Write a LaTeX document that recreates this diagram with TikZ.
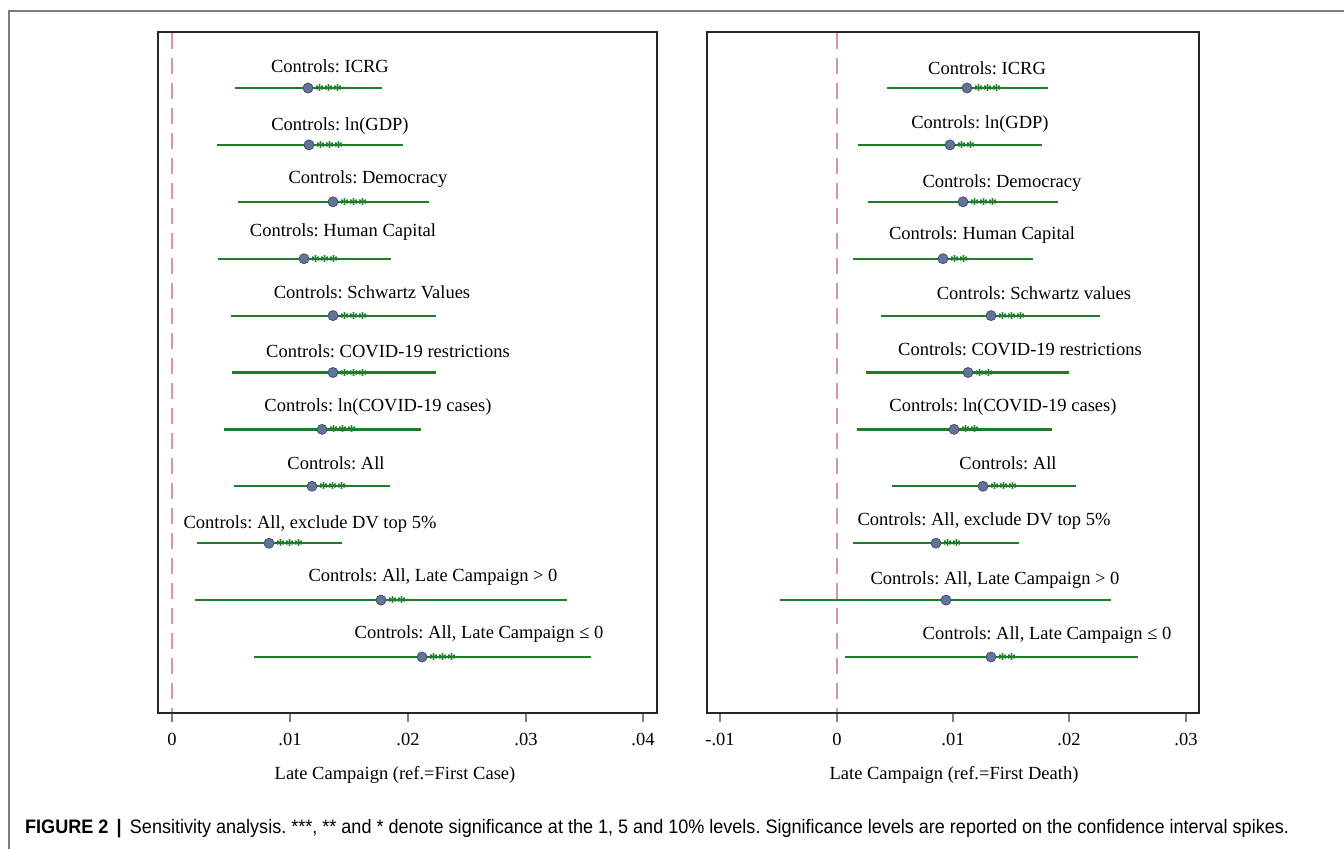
\documentclass[tikz,border=0pt]{standalone}
\usepackage{fontspec}
\setmainfont{Liberation Serif}
\newfontfamily\capfont[FakeStretch=0.925]{Liberation Sans}
\usetikzlibrary{positioning}
\definecolor{cigreen}{RGB}{30,125,40}
\definecolor{dotblue}{RGB}{100,115,150}
\definecolor{dotedge}{RGB}{65,80,115}
\definecolor{refpink}{RGB}{215,150,160}
\definecolor{framegray}{RGB}{125,125,125}
\frenchspacing

\begin{document}
\begin{tikzpicture}[x=1pt, y=-1pt,
	lab/.style={font=\fontsize{18.5}{22}\selectfont, inner sep=0pt, anchor=base},
	ci/.style={cigreen, line width=2.2pt},
	est/.style={circle, fill=dotblue, draw=dotedge, line width=0.8pt, minimum size=10pt, inner sep=0pt},
	sig/.style={text=cigreen, font=\bfseries\fontsize{18}{20}\selectfont, inner sep=0pt, anchor=base west},
	panel/.style={draw=black!85, line width=2pt},
	ref/.style={refpink, line width=1.6pt, dash pattern=on 16pt off 9pt},
	tick/.style={black!50, line width=1.5pt}]
	\useasboundingbox (0,0) rectangle (1344,849);
	\draw[framegray, line width=1.5pt] (9,849) -- (9,11) -- (1344,11);

	% left panel: first case
	\draw[ref] (172,33) -- (172,712);
	\draw[panel] (158,32) rectangle (657,713);
	\foreach \v/\x in {0/172, .01/290, .02/408, .03/526, .04/643} {
		\draw[tick] (\x,714) -- (\x,722);
		\node[lab] (lt\x) at (\x,745) {\v};
	}
	\node[lab] (lxlab) at (395,779) {Late Campaign (ref.=First Case)};
	\foreach \i/\lo/\hi/\b/\s/\lx/\ly/\txt in {
		1/235/382/308/***/330/66/{Controls: ICRG},
		2/217/403/309/***/340/124/{Controls: ln(GDP)},
		3/238/429/333/***/368/177/{Controls: Democracy},
		4/218/391/304/***/343/230/{Controls: Human Capital},
		5/231/436/333/***/372/292/{Controls: Schwartz Values},
		6/232/436/333/***/388/351/{Controls: COVID-19 restrictions},
		7/224/421/322/***/378/405/{Controls: ln(COVID-19 cases)},
		8/234/390/312/***/336/463/{Controls: All},
		9/197/342/269/***/310/522/{Controls: All, exclude DV top 5\%},
		10/195/567/381/**/433/575/{Controls: All, Late Campaign > 0},
		11/254/591/422/***/479/632/{Controls: All, Late Campaign ≤ 0}} {
		\pgfmathsetmacro{\yy}{88+56.9*(\i-1)}
		\coordinate (llo\i) at (\lo,\yy); \coordinate (lhi\i) at (\hi,\yy);
		\draw[ci] (llo\i) -- (lhi\i);
		\node[est] (lb\i) at (\b,\yy) {};
		\node[sig] (ls\i) at (\b+7,\yy+8.5) {\s};
		\node[lab] (ll\i) at (\lx,\ly+6.5) {\txt};
	}

	% right panel: first death
	\draw[ref] (837,33) -- (837,712);
	\draw[panel] (707,32) rectangle (1199,713);
	\foreach \v/\x in {-.01/720, 0/837, .01/953, .02/1069, .03/1186} {
		\draw[tick] (\x,714) -- (\x,722);
		\node[lab] (rt\x) at (\x,745) {\v};
	}
	\node[lab] (rxlab) at (954,779) {Late Campaign (ref.=First Death)};
	\foreach \i/\lo/\hi/\b/\s/\lx/\ly/\txt in {
		1/887/1048/967/***/987/68/{Controls: ICRG},
		2/858/1042/950/**/980/122/{Controls: ln(GDP)},
		3/868/1058/963/***/1002/181/{Controls: Democracy},
		4/853/1033/943/**/982/233/{Controls: Human Capital},
		5/881/1100/991/***/1034/293/{Controls: Schwartz values},
		6/866/1069/968/**/1020/349/{Controls: COVID-19 restrictions},
		7/857/1052/954/**/1003/405/{Controls: ln(COVID-19 cases)},
		8/892/1076/983/***/1008/463/{Controls: All},
		9/853/1019/936/**/984/519/{Controls: All, exclude DV top 5\%},
		10/780/1111/946/{}/995/578/{Controls: All, Late Campaign > 0},
		11/845/1138/991/**/1047/633/{Controls: All, Late Campaign ≤ 0}} {
		\pgfmathsetmacro{\yy}{88+56.9*(\i-1)}
		\coordinate (rlo\i) at (\lo,\yy); \coordinate (rhi\i) at (\hi,\yy);
		\draw[ci] (rlo\i) -- (rhi\i);
		\node[est] (rb\i) at (\b,\yy) {};
		\node[sig] (rs\i) at (\b+7,\yy+8.5) {\s};
		\node[lab] (rl\i) at (\lx,\ly+6.5) {\txt};
	}

	% caption
	\node[anchor=base west, inner sep=0pt, font=\capfont\fontsize{19.5}{22}\selectfont] (cap) at (25,833)
		{\textbf{FIGURE 2} \,\textbf{|}\, Sensitivity analysis. ***, ** and * denote significance at the 1, 5 and 10\% levels. Significance levels are reported on the confidence interval spikes.};
\end{tikzpicture}
\end{document}
